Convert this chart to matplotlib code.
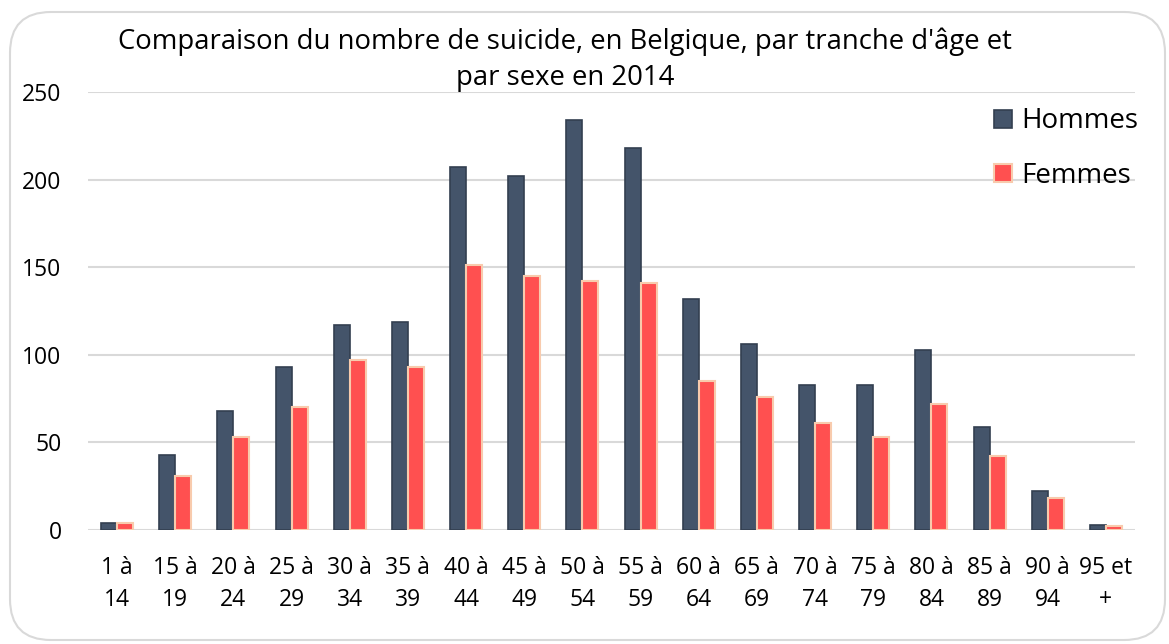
import matplotlib
matplotlib.use('Agg')
import matplotlib.pyplot as plt
from matplotlib.patches import FancyBboxPatch
import numpy as np

plt.rcParams['font.family'] = ['Open Sans', 'DejaVu Sans']

# age groups and counts
tranches = ["1 à\n14", "15 à\n19", "20 à\n24", "25 à\n29", "30 à\n34", "35 à\n39",
            "40 à\n44", "45 à\n49", "50 à\n54", "55 à\n59", "60 à\n64", "65 à\n69",
            "70 à\n74", "75 à\n79", "80 à\n84", "85 à\n89", "90 à\n94", "95 et\n+"]
hommes = [4, 43, 68, 93, 117, 119, 207, 202, 234, 218, 132, 106, 83, 83, 103, 59, 22, 3]
femmes = [4, 31, 53, 70, 97, 93, 151, 145, 142, 141, 85, 76, 61, 53, 72, 42, 18, 2]
yticks = [0, 50, 100, 150, 200, 250]

fig = plt.figure(figsize=(11.69, 6.44), dpi=100)
fig.patch.set_facecolor('white')

# rounded chart border
border = FancyBboxPatch((10 / 1169, 4 / 644), 1155 / 1169, 628 / 644,
                        boxstyle="round,pad=0,rounding_size=0.035",
                        transform=fig.transFigure, facecolor='none',
                        edgecolor='#D9D9D9', linewidth=1.5, mutation_aspect=1169 / 644,
                        zorder=-1)
fig.patches.append(border)

ax = fig.add_axes([88 / 1169, 114 / 644, 1047 / 1169, 438 / 644])
ax.set_facecolor('none')

x = np.arange(len(tranches))
w = 0.275
ax.bar(x - w / 2, hommes, w, color='#44546A', edgecolor='#333F50',
       linewidth=1.2, label='Hommes', zorder=3)
ax.bar(x + w / 2, femmes, w, color='#FF5050', edgecolor='#F8CBAD',
       linewidth=1.5, label='Femmes', zorder=3)

ax.set_xlim(-0.5, len(tranches) - 0.5)
ax.set_ylim(0, 250)
ax.set_yticks(yticks)
ax.set_xticks(x)
ax.set_xticklabels(tranches, fontsize=16.5, linespacing=1.45)
ax.tick_params(axis='y', labelsize=16.5)
ax.tick_params(axis='both', length=0)
ax.tick_params(axis='x', pad=19)
ax.tick_params(axis='y', pad=19)
ax.grid(axis='y', color='#D9D9D9', linewidth=1.5, zorder=0)
for s in ax.spines.values():
    s.set_visible(False)

fig.text(565 / 1169, 1 - 42 / 644, "Comparaison du nombre de suicide, en Belgique, par tranche d'âge et",
         ha='center', va='center', fontsize=19.8)
fig.text(565 / 1169, 1 - 78 / 644, "par sexe en 2014",
         ha='center', va='center', fontsize=19.8)

leg = ax.legend(loc='upper right', bbox_to_anchor=(1.027, 1.022), frameon=False,
                fontsize=20, handlelength=0.62, handleheight=0.62,
                handletextpad=0.35, labelspacing=0.95)

plt.savefig('out.png', dpi=100)
